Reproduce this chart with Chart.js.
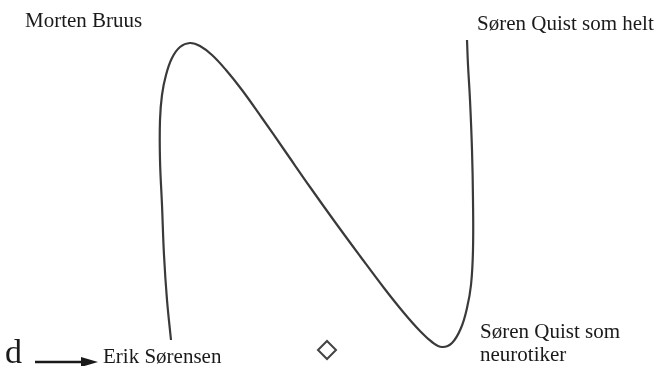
<!DOCTYPE html>
<html>
<head>
<meta charset="utf-8">
<script src="https://cdn.jsdelivr.net/npm/chart.js@4"></script>
<style>
  html, body { margin: 0; padding: 0; background: #fff; }
  #chart { display: block; }
</style>
</head>
<body>
<canvas id="chart" width="658" height="366"></canvas>
<script>
// curve (frame: 0..658 across, 0..366 down)
const curveX = [171, 167, 164, 162, 160, 160, 162, 166, 172, 180, 190, 200, 212, 226, 242, 262, 285, 310, 335, 360, 384, 404, 420, 432, 442, 452, 461, 467, 471, 473, 473, 472, 470, 468, 467];
const curveY = [340, 300, 255, 205, 160, 120, 95, 75, 58, 47, 43, 46, 55, 70, 90, 118, 151, 187, 222, 256, 288, 313, 331, 342, 347, 343, 328, 308, 285, 250, 200, 150, 100, 65, 40];

// lone diamond marker
const markerX = [327];
const markerY = [350];

// text labels (left edge, baseline)
const labelTexts = ["Morten Bruus", "Søren Quist som helt", "Søren Quist som", "neurotiker", "Erik Sørensen", "d"];
const labelX = [25, 477, 480, 480, 103, 5];
const labelY = [27, 30, 338, 361, 363, 363];
const labelSize = [21, 21, 21, 21, 21, 34];

// arrow from "d" to "Erik Sørensen"
const arrowFrom = [35, 362];
const arrowTo = [98, 362];

const curvePoints = curveX.map((x, i) => ({ x: x, y: curveY[i] }));
const markerPoints = markerX.map((x, i) => ({ x: x, y: markerY[i] }));

// draws the labels and arrow through the chart scales
const labelPlugin = {
  id: "labels",
  afterDatasetsDraw(chart) {
    const ctx = chart.ctx;
    const sx = chart.scales.x;
    const sy = chart.scales.y;
    ctx.save();
    ctx.fillStyle = "#1a1a1a";
    ctx.textBaseline = "alphabetic";
    ctx.textAlign = "left";
    labelTexts.forEach((t, i) => {
      ctx.font = labelSize[i] + "px 'Liberation Serif', 'Times New Roman', serif";
      ctx.fillText(t, sx.getPixelForValue(labelX[i]), sy.getPixelForValue(labelY[i]));
    });

    const x0 = sx.getPixelForValue(arrowFrom[0]);
    const y0 = sy.getPixelForValue(arrowFrom[1]);
    const x1 = sx.getPixelForValue(arrowTo[0]);
    const y1 = sy.getPixelForValue(arrowTo[1]);
    ctx.strokeStyle = "#1a1a1a";
    ctx.lineWidth = 2.5;
    ctx.beginPath();
    ctx.moveTo(x0, y0);
    ctx.lineTo(x1 - 14, y1);
    ctx.stroke();
    ctx.beginPath();
    ctx.moveTo(x1, y1);
    ctx.lineTo(x1 - 17, y1 - 5);
    ctx.lineTo(x1 - 17, y1 + 5);
    ctx.closePath();
    ctx.fill();
    ctx.restore();
  }
};

new Chart(document.getElementById("chart"), {
  type: "scatter",
  data: {
    datasets: [
      {
        data: curvePoints,
        showLine: true,
        tension: 0.4,
        borderColor: "#3a3a3a",
        borderWidth: 2.2,
        pointRadius: 0,
        fill: false
      },
      {
        data: markerPoints,
        showLine: false,
        pointStyle: "rectRot",
        pointRadius: 9,
        pointBorderWidth: 2,
        pointBorderColor: "#444",
        pointBackgroundColor: "#fff"
      }
    ]
  },
  options: {
    responsive: false,
    animation: false,
    layout: { padding: 0, autoPadding: false },
    plugins: {
      legend: { display: false },
      tooltip: { enabled: false }
    },
    scales: {
      x: { type: "linear", min: 0, max: 658, display: false },
      y: { type: "linear", min: 0, max: 366, reverse: true, display: false }
    }
  },
  plugins: [labelPlugin]
});
</script>
</body>
</html>
